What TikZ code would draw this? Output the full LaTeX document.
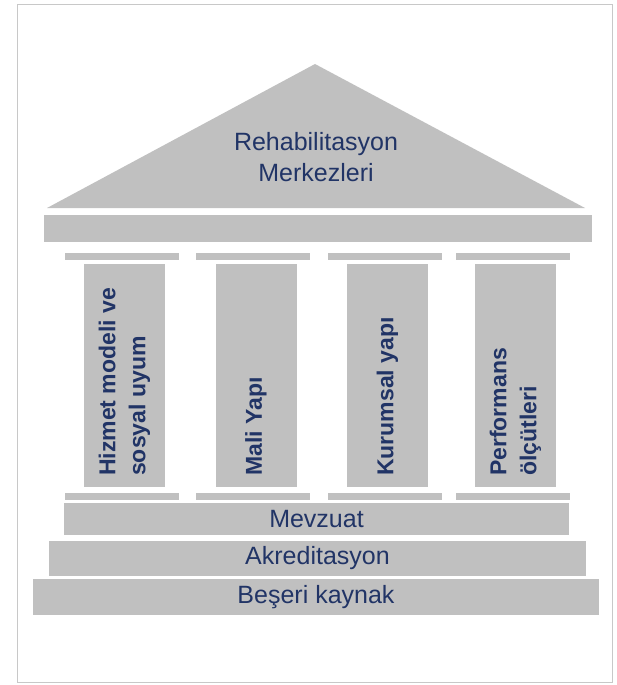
\documentclass[tikz,border=0pt]{standalone}
\usepackage{fontspec}
\setmainfont{Liberation Sans}
\definecolor{stone}{RGB}{192,192,192}
\definecolor{ink}{RGB}{33,52,102}
\definecolor{edge}{RGB}{200,200,200}
\begin{document}
\begin{tikzpicture}[x=1pt, y=-1pt,
  slab/.style={fill=stone, inner sep=0, text=ink, font=\fontsize{25}{31}\selectfont},
  capital/.style={fill=stone, inner sep=0, minimum width=114, minimum height=7},
  shaft/.style={fill=stone, inner sep=0, minimum width=81, minimum height=223},
  legend/.style={rotate=90, anchor=west, align=left, inner sep=0, text=ink, font=\fontsize{23}{30}\bfseries}]
\useasboundingbox (0,0) rectangle (616,685);
\draw [edge, line width=1] (17.5,4.5) rectangle (612.5,682.5);

% roof and entablature
\fill [stone] (47,208) -- (315,64) -- (585,208) -- cycle;
\node (roof) [align=center, inner sep=0, text=ink, font=\fontsize{25}{31}\selectfont] at (316,157) {Rehabilitasyon\\Merkezleri};
\node (beam) [slab, minimum width=548, minimum height=27] at (318,228.5) {};

% capitals
\node (cap1) [capital] at (121.5,256.5) {};
\node (cap2) [capital] at (252.5,256.5) {};
\node (cap3) [capital] at (384.5,256.5) {};
\node (cap4) [capital] at (512.5,256.5) {};

% columns
\node (col1) [shaft] at (124.5,375.5) {};
\node (col2) [shaft] at (256,375.5) {};
\node (col3) [shaft] at (387.5,375.5) {};
\node (col4) [shaft] at (515.5,375.5) {};

\node (hizmet) [legend] at (124.5,476) {Hizmet modeli ve\\sosyal uyum};
\node (mali) [legend] at (256,476) {Mali Yapı};
\node (kurumsal) [legend] at (387.5,476) {Kurumsal yapı};
\node (performans) [legend] at (515.5,476) {Performans\\ölçütleri};

% bases
\node (base1) [capital] at (121.5,496.5) {};
\node (base2) [capital] at (252.5,496.5) {};
\node (base3) [capital] at (384.5,496.5) {};
\node (base4) [capital] at (512.5,496.5) {};

% steps
\node (mevzuat) [slab, minimum width=505, minimum height=32] at (316.5,519) {Mevzuat};
\node (akreditasyon) [slab, minimum width=537, minimum height=35] at (317.5,558.5) {Akreditasyon};
\node (beseri) [slab, minimum width=566, minimum height=36] at (316,597) {Beşeri kaynak};
\end{tikzpicture}
\end{document}
